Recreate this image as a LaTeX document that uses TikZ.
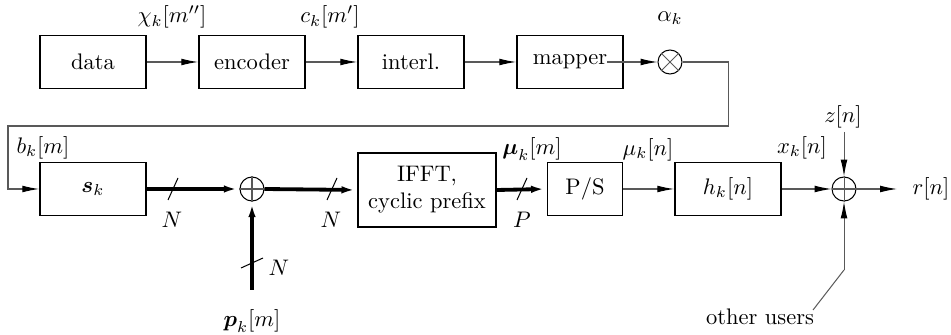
\documentclass[tikz,border=0pt]{standalone}
\usepackage{amsmath}
\usetikzlibrary{arrows.meta}

\tikzset{
  blk/.style={draw,line width=0.7pt,minimum width=1.656cm,minimum height=0.828cm,inner sep=1pt},
  sig/.style={draw=black!65,line width=0.45pt,-{Latex[length=7.5pt,width=3pt,color=black]}},
  wire/.style={draw=black!65,line width=0.45pt},
  vec/.style={draw=black,line width=1.7pt,-{Latex[length=7pt,width=3.2pt]}},
  junc/.style={draw,circle,line width=0.45pt,minimum size=0.375cm,inner sep=0pt},
  busmk/.style={draw=black,line width=0.45pt}
}
\newcommand{\busmark}[3]{\draw[busmk] ([shift={(-#2,#3)}]#1) -- ([shift={(#2,-#3)}]#1);}

\begin{document}
\begin{tikzpicture}[x=0.015625cm,y=-0.015625cm]
\useasboundingbox (0,0) rectangle (951,335);

% top row
\node[blk] (data) at (93,62) {data};
\node[blk] (enc) at (252,62) {encoder};
\node[blk] (intl) at (411,62) {interl.};
\node[blk] (map) at (570,62) {mapper};
\node[junc] (mult) at (670,62) {};
\draw[black!65,line width=0.45pt] (mult.north east) -- (mult.south west);
\draw[black!65,line width=0.45pt] (mult.north west) -- (mult.south east);

\node (chi) at (172,17) {$\chi_k[m'']$};
\node (ck) at (330,17) {$c_k[m']$};
\node (alpha) at (670,18) {$\alpha_k$};

\draw[sig] (data.east) -- (enc.west);
\draw[sig] (enc.east) -- (intl.west);
\draw[sig] (intl.east) -- (map.west);
\coordinate (mapout) at (607,62);
\draw[sig] (mapout) -- (mult.west);

% wrap-around to second row
\coordinate (wrapR) at (728,126);
\coordinate (wrapL) at (8,126);

% bottom row
\node[blk] (sk) at (93,189) {$\boldsymbol{s}_k$};
\node[junc] (sum1) at (252,189) {};
\draw[black!65,line width=0.45pt] (sum1.north) -- (sum1.south);
\draw[black!65,line width=0.45pt] (sum1.west) -- (sum1.east);
\node[blk,minimum width=2.156cm,minimum height=1.156cm,align=center] (ifft) at (427,190) {IFFT,\\cyclic prefix};
\node[blk,minimum width=1.172cm] (ps) at (585,189) {P/S};
\node[blk] (hk) at (728,189) {$h_k[n]$};
\node[junc] (sum2) at (844,189) {};
\draw[black!65,line width=0.45pt] (sum2.north) -- (sum2.south);
\draw[black!65,line width=0.45pt] (sum2.west) -- (sum2.east);

\coordinate (pin) at (252,290);
\coordinate (zin) at (844,132);
\coordinate (rout) at (897,189);
\coordinate (oth) at (844,270);
\coordinate (othend) at (813,310);

\draw[sig] (mult.east) -| (wrapR) -- (wrapL) |- (sk.west);
\draw[vec] (sk.east) -- (sum1.west);
\draw[vec] (sum1.east) -- (ifft.west);
\draw[vec] (pin) -- (sum1.south);
\draw[vec] (ifft.east) -- (ps.west);
\draw[sig] (ps.east) -- (hk.west);
\draw[sig] (hk.east) -- (sum2.west);
\draw[sig] (sum2.east) -- (rout);
\draw[sig] (zin) -- (sum2.north);
\draw[wire] (othend) -- (oth);
\draw[sig] (oth) -- (sum2.south);

% bus widths
\busmark{173,189}{5}{11}
\busmark{332,189}{5}{11}
\busmark{522,189}{5}{11}
\busmark{252,263}{-11}{-5}

\node (bk) at (43,148) {$b_k[m]$};
\node (n1) at (172,220) {$N$};
\node (n2) at (331,220) {$N$};
\node (n3) at (279,268) {$N$};
\node (pk) at (252,321) {$\boldsymbol{p}_k[m]$};
\node (mum) at (532,149) {$\boldsymbol{\mu}_k[m]$};
\node (pp) at (522,220) {$P$};
\node (mun) at (648,150) {$\mu_k[n]$};
\node (xk) at (802,148) {$x_k[n]$};
\node (zn) at (843,117) {$z[n]$};
\node (rn) at (931,189) {$r[n]$};
\node (other) at (760,317) {other users};
\end{tikzpicture}
\end{document}
